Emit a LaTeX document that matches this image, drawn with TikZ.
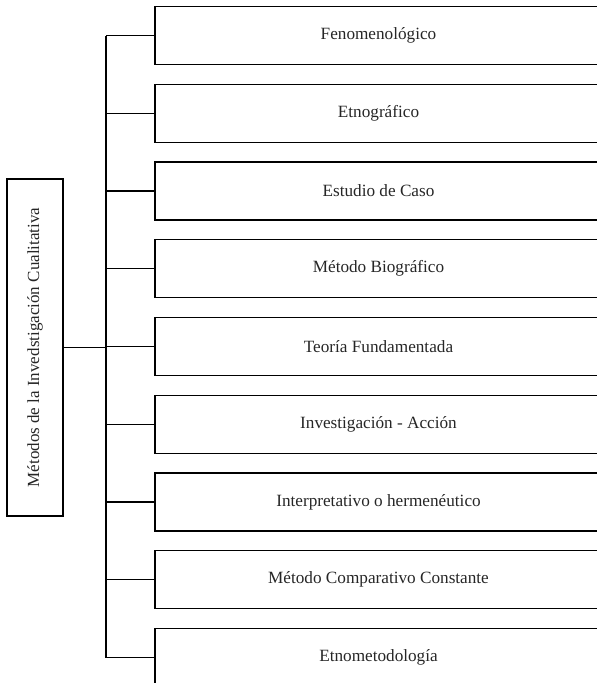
\documentclass[tikz,border=0pt]{standalone}
\usepackage{fontspec}
\setmainfont{Liberation Serif}
\usepackage{tikz}

\begin{document}
\begin{tikzpicture}[x=1pt,y=-1pt,
  metodo/.style={rectangle,draw,line width=1.4pt,minimum width=447pt,minimum height=58pt,
    inner sep=0pt,font=\fontsize{17.2}{20}\selectfont,text=black!85},
  raiz/.style={rectangle,draw,line width=1.4pt,rotate=90,minimum width=337pt,minimum height=56pt,
    inner sep=0pt,font=\fontsize{17}{20}\selectfont,text=black!85},
  rama/.style={line width=1.4pt}]
\useasboundingbox (0,0) rectangle (597,683);

\node [raiz] (raiz) at (35,347.5) {Métodos de la Invedstigación Cualitativa};
\coordinate (tronco) at (106,0);

\foreach \texto [count=\i] in {Fenomenológico, Etnográfico, Estudio de Caso,
    Método Biográfico, Teoría Fundamentada, Investigación - Acción,
    Interpretativo o hermenéutico, Método Comparativo Constante, Etnometodología}
{
  \node [metodo] (m\i) at (378.5,{35.5+77.75*(\i-1)}) {\texto};
  \draw [rama] (tronco |- m\i.west) -- (m\i.west);
}

\draw [rama] (tronco |- m1.west) -- (tronco |- m9.west);
\draw [rama] (raiz.south) -- (tronco |- raiz.south);
\end{tikzpicture}
\end{document}
